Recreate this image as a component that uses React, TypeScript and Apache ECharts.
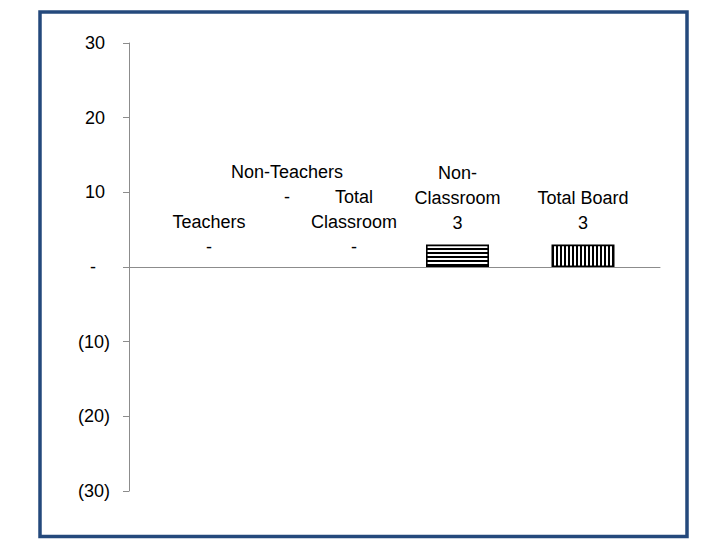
import React, { useEffect, useRef } from "react";
import * as echarts from "echarts";

// ---- data ----
const categories = ["Teachers", "Non-Teachers", "Total Classroom", "Non-Classroom", "Total Board"];
const categoryLabelLines = ["Teachers", "Non-Teachers", "Total\nClassroom", "Non-\nClassroom", "Total Board"];
const values = [0, 0, 0, 3, 3];
const yMin = -30;
const yMax = 30;
const yStep = 10;

// ---- layout / style (not data) ----
const labelShift: [number, number][] = [
  [128, 0],
  [80.5, -50],
  [22, 0],
  [0, -1.5],
  [0, -1.5],
];
const barPattern = ["h", "h", "h", "h", "v"];
const FONT = "'Liberation Sans', Arial, sans-serif";

const fmtValue = (v: number) => (v === 0 ? "-" : v < 0 ? `(${Math.abs(v)})` : `${v}`);

function stripes(horizontal: boolean) {
  const c = document.createElement("canvas");
  c.width = 4;
  c.height = 4;
  const ctx = c.getContext("2d")!;
  ctx.fillStyle = "#ffffff";
  ctx.fillRect(0, 0, 4, 4);
  ctx.fillStyle = "#000000";
  if (horizontal) ctx.fillRect(0, 0, 4, 2);
  else ctx.fillRect(0, 0, 2, 4);
  return { image: c, repeat: "repeat" } as any;
}

export default function App() {
  const ref = useRef<HTMLDivElement>(null);

  useEffect(() => {
    if (!ref.current) return;
    const chart = echarts.init(ref.current, undefined, { renderer: "svg" });
    const hPat = stripes(true);
    const vPat = stripes(false);

    const option: any = {
      animation: false,
      backgroundColor: "#ffffff",
      graphic: [
        {
          type: "rect",
          shape: { x: 40, y: 12, width: 647, height: 524.5 },
          style: { fill: "none", stroke: "#24497C", lineWidth: 3.5 },
          z: 100,
        },
      ],
      grid: [
        { left: 129, right: 53, top: 43, bottom: 51 },
        { left: 18.25, right: 67.25, top: 43, bottom: 51 },
      ],
      xAxis: [
        {
          type: "category",
          gridIndex: 0,
          data: categories,
          axisLine: { show: true, onZero: true, lineStyle: { color: "#8c8c8c", width: 1 } },
          axisTick: { show: false },
          axisLabel: { show: false },
          splitLine: { show: false },
        },
        {
          type: "category",
          gridIndex: 1,
          data: categories,
          show: false,
        },
      ],
      yAxis: [
        {
          type: "value",
          gridIndex: 0,
          min: yMin,
          max: yMax,
          interval: yStep,
          axisLine: { show: true, lineStyle: { color: "#8c8c8c", width: 1 } },
          axisTick: { show: true, length: 6, lineStyle: { color: "#8c8c8c" } },
          splitLine: { show: false },
          axisLabel: {
            margin: 19,
            formatter: (v: number) =>
              v === 0 ? `{z|-}` : v < 0 ? `{n|(${Math.abs(v)})}` : `{p|${v}}`,
            rich: {
              p: { fontFamily: FONT, fontSize: 18, color: "#000", padding: [0, 5, 0, 0] },
              n: { fontFamily: FONT, fontSize: 18, color: "#000" },
              z: { fontFamily: FONT, fontSize: 18, color: "#000", padding: [0, 14, 0, 0] },
            },
          },
        },
        {
          type: "value",
          gridIndex: 1,
          min: yMin,
          max: yMax,
          interval: yStep,
          show: false,
          splitLine: { show: false },
        },
      ],
      series: [
        {
          type: "bar",
          xAxisIndex: 1,
          yAxisIndex: 1,
          barWidth: 63,
          data: values.map((v, i) => ({
            value: v,
            itemStyle: {
              color: v === 0 ? "transparent" : barPattern[i] === "h" ? hPat : vPat,
              borderColor: "#000",
              borderWidth: v === 0 ? 0 : 1.6,
            },
            label: {
              show: true,
              position: "top",
              distance: 8,
              offset: labelShift[i],
              formatter: () => `${categoryLabelLines[i]}\n${fmtValue(v)}`,
              fontFamily: FONT,
              fontSize: 18,
              lineHeight: 25,
              color: "#000",
              align: "center",
            },
          })),
        },
      ],
    };

    chart.setOption(option);
    return () => chart.dispose();
  }, []);

  return (
    <div
      ref={ref}
      style={{ position: "absolute", left: 0, top: 0, width: 713, height: 542 }}
    />
  );
}
